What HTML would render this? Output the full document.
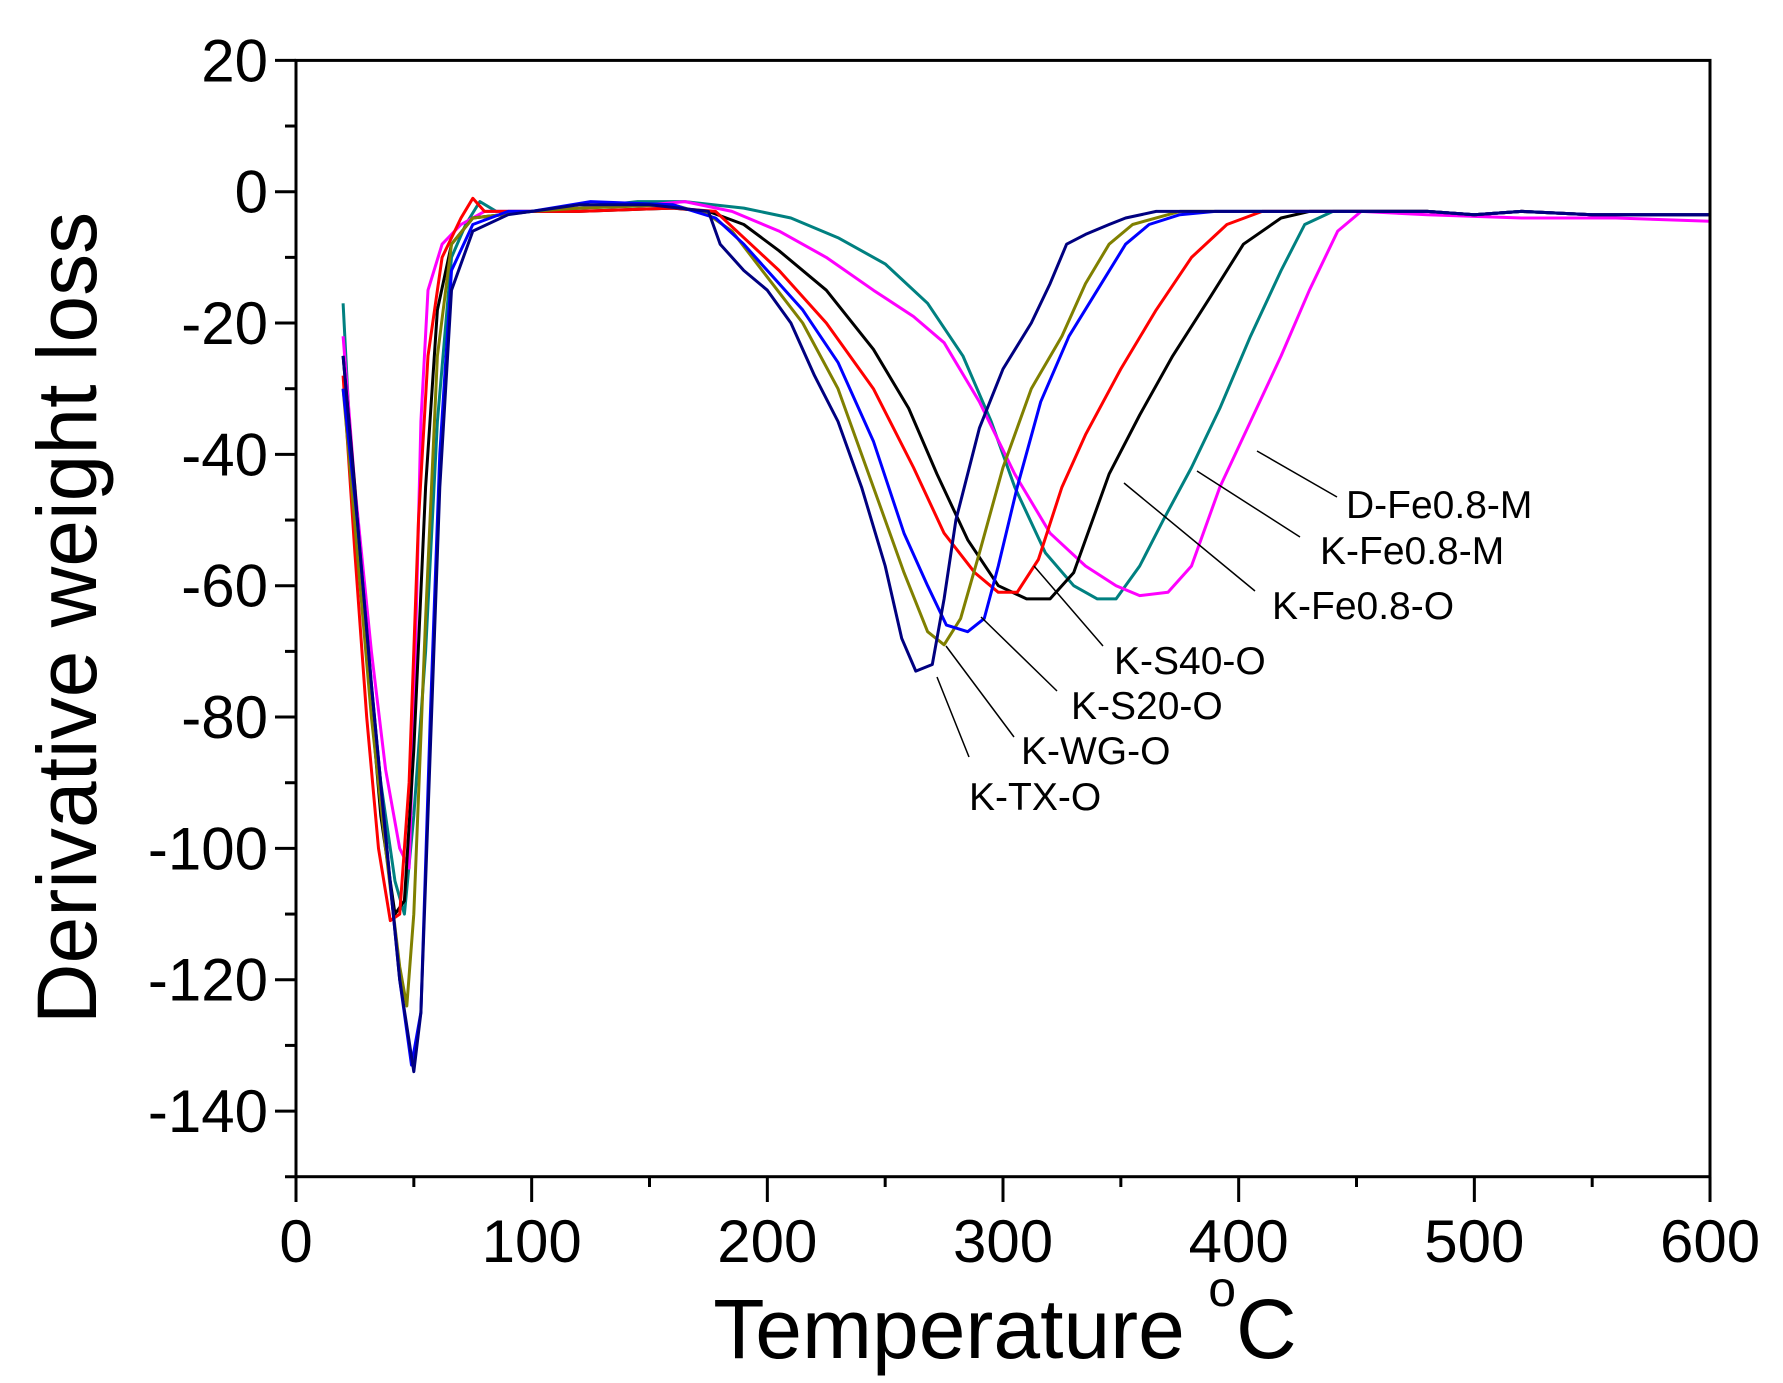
<!DOCTYPE html>
<html><head><meta charset="utf-8"><style>
html,body{margin:0;padding:0;background:#fff}
svg{display:block}
text{font-family:"Liberation Sans",Arial,sans-serif;fill:#000}
</style></head><body>
<svg id="s" width="1783" height="1383" viewBox="0 0 1783 1383" xmlns="http://www.w3.org/2000/svg">
<g id="plot" fill="none" stroke-width="3" stroke-linejoin="round"></g>
<rect x="296" y="60.4" width="1414" height="1116.3" fill="none" stroke="#000" stroke-width="3"/>
<g id="ticks" stroke="#000" stroke-width="3"></g>
<g id="labels" font-size="60"></g>
<g font-size="39" fill="#000">
<text x="1346" y="518">D-Fe0.8-M</text>
<text x="1320" y="564">K-Fe0.8-M</text>
<text x="1272" y="619">K-Fe0.8-O</text>
<text x="1114" y="674">K-S40-O</text>
<text x="1071" y="719">K-S20-O</text>
<text x="1021" y="764">K-WG-O</text>
<text x="969" y="810">K-TX-O</text>
</g>
<g stroke="#000" stroke-width="1.5">
<line x1="1257" y1="451" x2="1337" y2="497"/>
<line x1="1197" y1="471" x2="1300" y2="537"/>
<line x1="1124" y1="483" x2="1255" y2="591"/>
<line x1="1034" y1="566" x2="1103" y2="646"/>
<line x1="981" y1="617" x2="1057" y2="691"/>
<line x1="946" y1="646" x2="1014" y2="737"/>
<line x1="937" y1="677" x2="969" y2="757"/>
</g>
<text x="1005" y="1358" font-size="84" text-anchor="middle">Temperature <tspan font-size="50" dy="-52">o</tspan><tspan dy="52">C</tspan></text>
<text transform="translate(96,618) rotate(-90)" font-size="84" text-anchor="middle">Derivative weight loss</text>
</svg>
<script>
const X=t=>296+t*2.3567, Y=v=>191.7-v*6.567;
const ns="http://www.w3.org/2000/svg";
const tk=document.getElementById('ticks'), lb=document.getElementById('labels');
function ln(x1,y1,x2,y2){const l=document.createElementNS(ns,'line');l.setAttribute('x1',x1);l.setAttribute('y1',y1);l.setAttribute('x2',x2);l.setAttribute('y2',y2);tk.appendChild(l);}
function tx(x,y,s,a){const t=document.createElementNS(ns,'text');t.setAttribute('x',x);t.setAttribute('y',y);t.setAttribute('text-anchor',a);t.textContent=s;lb.appendChild(t);}
for(let t=0;t<=600;t+=50){const x=X(t);if(t%100==0){ln(x,1176.7,x,1202);tx(x,1262,t,'middle');}else ln(x,1176.7,x,1187);}
for(let v=20;v>=-150;v-=10){const y=Y(v);if(v%20==0){ln(275,y,296,y);tx(268,y+21,v==0?'0':(v<0?'-'+(-v):v),'end');}else ln(285,y,296,y);}
const base=[[450,-3],[480,-3],[500,-3.5],[520,-3],[550,-3.5],[580,-3.5],[600,-3.5]];
const low={
red:[[20,-28],[25,-55],[30,-80],[35,-100],[40,-111],[44,-110],[48,-90],[52,-50],[56,-25],[62,-10],[70,-4],[75,-1],[80,-3],[100,-3]],
black:[[20,-25],[25,-45],[30,-70],[36,-95],[42,-110],[46,-108],[50,-85],[55,-45],[60,-18],[66,-8],[75,-4],[100,-3]],
teal:[[20,-17],[24,-45],[30,-70],[36,-90],[42,-105],[46,-110],[50,-95],[55,-70],[60,-35],[66,-10],[72,-5],[78,-1.5],[85,-3],[100,-3]],
olive:[[20,-30],[26,-55],[32,-80],[38,-100],[44,-118],[47,-124],[50,-110],[55,-65],[60,-25],[66,-8],[75,-4],[100,-3]],
magenta:[[20,-22],[25,-45],[32,-70],[38,-88],[44,-100],[48,-103],[50,-80],[53,-35],[56,-15],[62,-8],[70,-5],[80,-3],[100,-3]],
blue:[[20,-30],[26,-50],[32,-75],[38,-98],[44,-120],[49,-133],[53,-125],[57,-80],[61,-40],[66,-12],[75,-5],[90,-3],[100,-3]],
navy:[[20,-25],[26,-50],[32,-75],[38,-98],[44,-120],[50,-134],[53,-125],[57,-85],[61,-45],[66,-15],[75,-6],[90,-3.5],[100,-3]]};
const mid={
navy:[[120,-2],[150,-2],[175,-3],[180,-8],[190,-12],[200,-15],[210,-20],[220,-28],[230,-35],[240,-45],[250,-57],[257,-68],[263,-73],[270,-72],[275,-62],[280,-50],[290,-36],[300,-27],[312,-20],[320,-14],[327,-8],[335,-6.5],[345,-5],[352,-4],[365,-3]],
olive:[[120,-2.5],[160,-2],[175,-3.5],[185,-6],[200,-13],[215,-20],[230,-30],[245,-45],[258,-58],[268,-67],[275,-69],[282,-65],[290,-55],[300,-42],[312,-30],[325,-22],[335,-14],[345,-8],[355,-5],[375,-3]],
blue:[[125,-1.5],[160,-2],[178,-4],[190,-8],[200,-12],[215,-18],[230,-26],[245,-38],[258,-52],[268,-60],[276,-66],[285,-67],[292,-65],[298,-57],[306,-45],[316,-32],[328,-22],[340,-15],[352,-8],[362,-5],[375,-3.5],[390,-3]],
red:[[120,-3],[160,-2.5],[178,-3],[190,-7],[205,-12],[225,-20],[245,-30],[262,-42],[275,-52],[288,-58],[298,-61],[306,-61],[315,-56],[325,-45],[335,-37],[350,-27],[365,-18],[380,-10],[395,-5],[410,-3]],
black:[[120,-3],[160,-2.5],[175,-3],[190,-5],[205,-9],[225,-15],[245,-24],[260,-33],[272,-43],[285,-53],[298,-60],[310,-62],[320,-62],[330,-58],[338,-50],[345,-43],[358,-34],[372,-25],[388,-16],[402,-8],[418,-4],[430,-3]],
teal:[[120,-2.5],[145,-1.5],[165,-1.5],[190,-2.5],[210,-4],[230,-7],[250,-11],[268,-17],[283,-25],[295,-35],[305,-45],[318,-55],[330,-60],[340,-62],[348,-62],[358,-57],[368,-50],[380,-42],[392,-33],[405,-22],[418,-12],[428,-5],[440,-3]],
magenta:[[120,-2.5],[150,-2],[165,-1.5],[185,-3],[205,-6],[225,-10],[245,-15],[262,-19],[275,-23],[290,-32],[305,-43],[320,-52],[335,-57],[348,-60],[358,-61.5],[370,-61],[380,-57],[392,-45],[405,-35],[418,-25],[430,-15],[442,-6],[452,-3],[480,-3.5],[520,-4],[560,-4],[600,-4.5]]};
const col={red:'#ff0000',black:'#000000',teal:'#008080',olive:'#808000',magenta:'#ff00ff',blue:'#0000ff',navy:'#000080'};
const order=['teal','magenta','black','red','olive','blue','navy'];
const g=document.getElementById('plot');
for(const k of order){let pts=low[k].concat(mid[k]);if(k!=='magenta')pts=pts.concat(base.filter(p=>p[0]>pts[pts.length-1][0]));
const p=document.createElementNS(ns,'polyline');p.setAttribute('points',pts.map(q=>X(q[0]).toFixed(1)+','+Y(q[1]).toFixed(1)).join(' '));p.setAttribute('stroke',col[k]);g.appendChild(p);}
</script>
</body></html>
